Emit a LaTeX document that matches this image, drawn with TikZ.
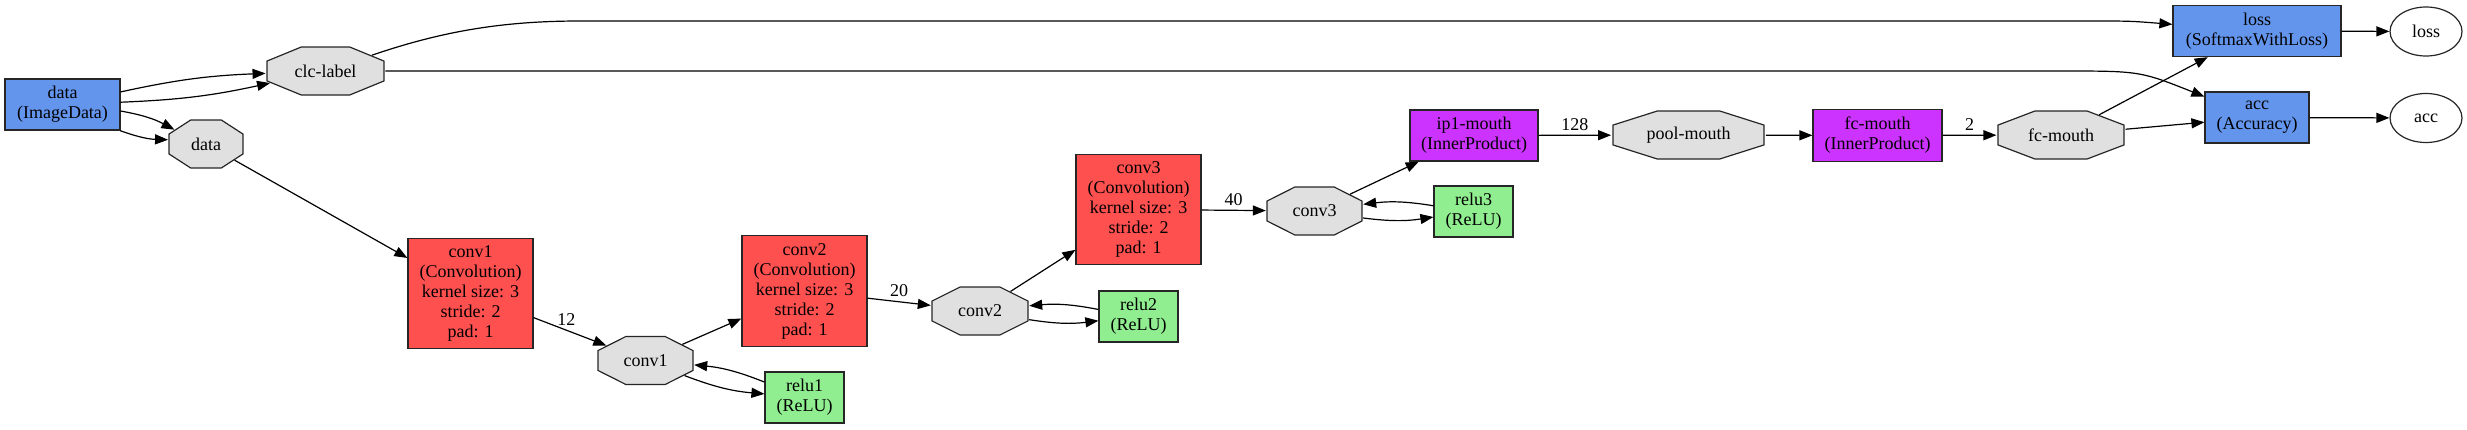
\documentclass[tikz,border=0pt]{standalone}
\usepackage{fontspec}
\setmainfont{Liberation Serif}
\usetikzlibrary{shapes.geometric, arrows.meta, positioning}
\definecolor{dataBlue}{HTML}{6495ED}
\definecolor{convRed}{HTML}{FF5050}
\definecolor{reluGreen}{HTML}{90EE90}
\definecolor{ipPurple}{HTML}{CC33FF}
\definecolor{blobGray}{HTML}{E0E0E0}
\tikzstyle{arrow} = [line width=1.2pt,-{Triangle[length=13pt,width=10pt]}]
\tikzstyle{layer} = [rectangle, draw=black!85, line width=1.2pt, align=center, inner xsep=4pt, inner ysep=7.4pt, minimum height=51pt]
\tikzstyle{output} = [ellipse, draw=black!85, line width=1.2pt, minimum width=72pt, minimum height=49pt]
\newcommand\blobText[1]{\scalebox{\blobInv}[1]{#1}}
\tikzset{
	blob/.style = {regular polygon, regular polygon sides=8, draw=black!85, fill=blobGray,
		line width=1.2pt, minimum size=51.95pt, inner sep=0pt, xscale=#1/48,
		/utils/exec={\pgfmathsetmacro\blobInv{48/#1}}},
}

\begin{document}
\begin{tikzpicture}[x=1pt, y=-1pt, font=\fontsize{18}{20}\selectfont]
\useasboundingbox (0,0) rectangle (2467,429);
% Placement of layer and blob nodes
\node (dataLayer) [layer, fill=dataBlue, minimum width=115pt] at (62.5,104.5) {data\\(ImageData)};
\node (clcLabel) [blob=117] at (325.5,71) {\blobText{clc-label}};
\node (dataBlob) [blob=74] at (206,144) {\blobText{data}};

\node (conv1Layer) [layer, fill=convRed, minimum width=125pt] at (470.5,293.5) {conv1\\(Convolution)\\kernel size: 3\\stride: 2\\pad: 1};
\node (conv1Blob) [blob=95] at (645.5,360.5) {\blobText{conv1}};
\node (relu1Layer) [layer, fill=reluGreen, minimum width=79pt] at (804.5,397.5) {relu1\\(ReLU)};

\node (conv2Layer) [layer, fill=convRed, minimum width=125pt] at (804.5,291) {conv2\\(Convolution)\\kernel size: 3\\stride: 2\\pad: 1};
\node (conv2Blob) [blob=96] at (980,311) {\blobText{conv2}};
\node (relu2Layer) [layer, fill=reluGreen, minimum width=79pt] at (1138.5,316.5) {relu2\\(ReLU)};

\node (conv3Layer) [layer, fill=convRed, minimum width=125pt] at (1138.5,209.5) {conv3\\(Convolution)\\kernel size: 3\\stride: 2\\pad: 1};
\node (conv3Blob) [blob=95] at (1314.5,211) {\blobText{conv3}};
\node (relu3Layer) [layer, fill=reluGreen, minimum width=79pt] at (1473.5,211.5) {relu3\\(ReLU)};

\node (ip1Layer) [layer, fill=ipPurple, minimum width=128pt] at (1474,135.5) {ip1-mouth\\(InnerProduct)};
\node (poolBlob) [blob=151] at (1688.5,135) {\blobText{pool-mouth}};
\node (fcLayer) [layer, fill=ipPurple, minimum width=129pt] at (1877.5,135.5) {fc-mouth\\(InnerProduct)};
\node (fcBlob) [blob=126] at (2061,135) {\blobText{fc-mouth}};

\node (lossLayer) [layer, fill=dataBlue, minimum width=168pt] at (2257,31) {loss\\(SoftmaxWithLoss)};
\node (accLayer) [layer, fill=dataBlue, minimum width=104pt] at (2257,117.5) {acc\\(Accuracy)};
\node (lossOut) [output] at (2426,31.5) {loss};
\node (accOut) [output] at (2426,118) {acc};

% Drawing of data edges
\draw [arrow] (dataLayer) to[bend left=5] (clcLabel);
\draw [arrow] (dataLayer) to[bend right=5] (clcLabel);
\draw [arrow] (dataLayer) to[bend left=9] (dataBlob);
\draw [arrow] (dataLayer) to[bend right=9] (dataBlob);
\draw [arrow] (clcLabel) .. controls (440,32) and (500,21) .. (580,21) -- (2090,21) .. controls (2130,21) .. (lossLayer);
\draw [arrow] (clcLabel) -- (2060,71) .. controls (2140,71) .. (accLayer);

% Conv chain
\draw [arrow] (dataBlob) -- (conv1Layer);
\draw [arrow] (conv1Layer) -- node[above=1pt, pos=0.45] {12} (conv1Blob);
\draw [arrow] (relu1Layer) to[bend right=8] (conv1Blob);
\draw [arrow] (conv1Blob) to[bend right=8] (relu1Layer);
\draw [arrow] (conv1Blob) -- (conv2Layer);
\draw [arrow] (conv2Layer) -- node[above=1pt] {20} (conv2Blob);
\draw [arrow] (relu2Layer) to[bend right=8] (conv2Blob);
\draw [arrow] (conv2Blob) to[bend right=8] (relu2Layer);
\draw [arrow] (conv2Blob) -- (conv3Layer);
\draw [arrow] (conv3Layer) -- node[above=1pt] {40} (conv3Blob);
\draw [arrow] (relu3Layer) to[bend right=8] (conv3Blob);
\draw [arrow] (conv3Blob) to[bend right=8] (relu3Layer);

% Mouth head and outputs
\draw [arrow] (conv3Blob) -- (ip1Layer);
\draw [arrow] (ip1Layer) -- node[above=1pt] {128} (poolBlob);
\draw [arrow] (poolBlob) -- (fcLayer);
\draw [arrow] (fcLayer) -- node[above=1pt] {2} (fcBlob);
\draw [arrow] (fcBlob) -- (lossLayer);
\draw [arrow] (fcBlob) -- (accLayer);
\draw [arrow] (lossLayer) -- (lossOut);
\draw [arrow] (accLayer) -- (accOut);
\end{tikzpicture}
\end{document}
